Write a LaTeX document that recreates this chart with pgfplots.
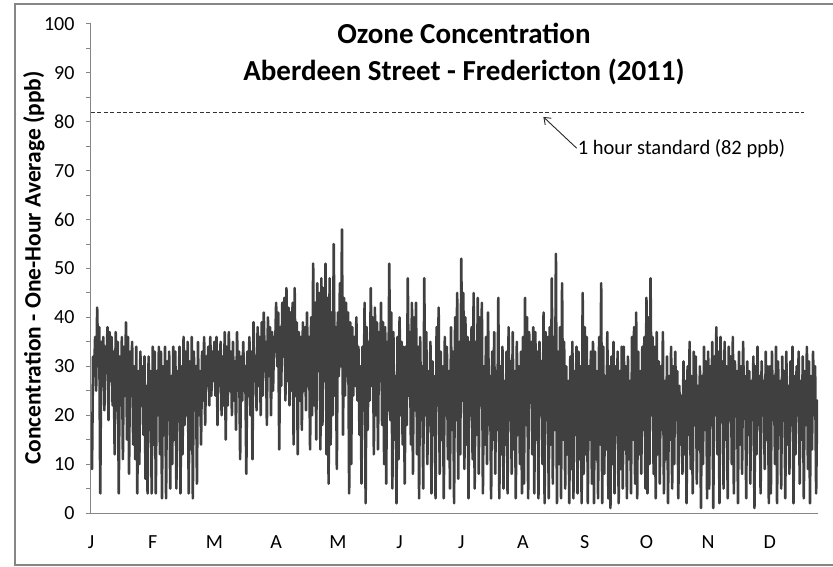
\documentclass[border=0pt]{standalone}
\usepackage{pgfplots}
\pgfplotsset{compat=1.18}
\usepackage{fontspec}
\setmainfont{Carlito}
\usetikzlibrary{arrows.meta}
\definecolor{series}{HTML}{404040}
\definecolor{axgray}{HTML}{868686}
\begin{document}
\begin{tikzpicture}
\path[use as bounding box] (-91pt,-53pt) rectangle (742pt,513pt);
\draw[axgray, line width=1.8pt] (742pt,509pt) -- (-76pt,509pt) -- (-76pt,-52pt) -- (742pt,-52pt);
\begin{axis}[
  scale only axis,
  width=727pt, height=489pt,
  xmin=0, xmax=11.78, ymin=0, ymax=100,
  axis lines*=left,
  axis line style={axgray, line width=1pt},
  xtick={0,1,2,3,4,5,6,7,8,9,10,11},
  xticklabels={J,F,M,A,M,J,J,A,S,O,N,D},
  x tick style={draw=none},
  ytick={0,10,...,100},
  minor y tick num=1,
  y tick style={axgray, line width=1pt},
  tick align=outside,
  major tick length=5pt, minor tick length=5pt,
  tick label style={font=\fontsize{20}{24}\selectfont},
  /pgf/number format/assume math mode=true,
  yticklabel style={xshift=-8pt},
  xticklabel style={yshift=-14pt},
]
\addplot[series, line width=2.6pt, line join=round, no marks] table[x expr=\coordindex/60, y index=0, header=false, row sep=\\] {
19\\ 9\\ 32\\ 28\\ 36\\ 25\\ 42\\ 30\\ 38\\ 4\\
35\\ 26\\ 36\\ 21\\ 34\\ 29\\ 38\\ 19\\ 37\\ 27\\
36\\ 22\\ 33\\ 12\\ 37\\ 21\\ 35\\ 4\\ 32\\ 22\\
36\\ 11\\ 34\\ 24\\ 39\\ 15\\ 36\\ 8\\ 33\\ 27\\
35\\ 14\\ 30\\ 11\\ 34\\ 4\\ 29\\ 10\\ 33\\ 22\\
30\\ 16\\ 32\\ 7\\ 26\\ 4\\ 32\\ 17\\ 29\\ 4\\
34\\ 14\\ 33\\ 4\\ 29\\ 20\\ 34\\ 12\\ 33\\ 3\\
30\\ 16\\ 34\\ 3\\ 31\\ 19\\ 33\\ 5\\ 28\\ 10\\
34\\ 15\\ 33\\ 5\\ 29\\ 21\\ 34\\ 4\\ 30\\ 12\\
36\\ 18\\ 33\\ 20\\ 35\\ 4\\ 31\\ 13\\ 36\\ 3\\
33\\ 21\\ 30\\ 6\\ 35\\ 20\\ 29\\ 14\\ 33\\ 23\\
36\\ 18\\ 32\\ 26\\ 34\\ 22\\ 36\\ 24\\ 33\\ 27\\
35\\ 24\\ 36\\ 18\\ 33\\ 26\\ 35\\ 20\\ 32\\ 22\\
37\\ 15\\ 34\\ 22\\ 37\\ 25\\ 33\\ 20\\ 35\\ 23\\
31\\ 17\\ 37\\ 25\\ 33\\ 11\\ 32\\ 23\\ 35\\ 25\\
30\\ 8\\ 33\\ 24\\ 36\\ 20\\ 33\\ 11\\ 39\\ 27\\
32\\ 21\\ 38\\ 26\\ 36\\ 20\\ 39\\ 24\\ 41\\ 29\\
35\\ 18\\ 40\\ 28\\ 38\\ 20\\ 37\\ 25\\ 36\\ 33\\
43\\ 30\\ 41\\ 13\\ 38\\ 26\\ 43\\ 32\\ 44\\ 23\\
46\\ 27\\ 42\\ 22\\ 41\\ 25\\ 43\\ 14\\ 46\\ 24\\
39\\ 12\\ 37\\ 23\\ 36\\ 17\\ 39\\ 25\\ 38\\ 21\\
41\\ 26\\ 36\\ 13\\ 40\\ 20\\ 51\\ 22\\ 43\\ 15\\
47\\ 29\\ 45\\ 13\\ 48\\ 18\\ 46\\ 27\\ 51\\ 12\\
44\\ 6\\ 48\\ 14\\ 41\\ 20\\ 55\\ 24\\ 38\\ 9\\
41\\ 28\\ 47\\ 30\\ 58\\ 16\\ 44\\ 24\\ 43\\ 28\\
41\\ 4\\ 39\\ 10\\ 38\\ 24\\ 36\\ 26\\ 40\\ 23\\
34\\ 16\\ 30\\ 6\\ 34\\ 21\\ 43\\ 2\\ 38\\ 17\\
35\\ 23\\ 46\\ 26\\ 40\\ 12\\ 42\\ 20\\ 39\\ 13\\
37\\ 27\\ 43\\ 18\\ 39\\ 10\\ 38\\ 6\\ 35\\ 21\\
51\\ 19\\ 41\\ 5\\ 37\\ 15\\ 28\\ 2\\ 36\\ 11\\
40\\ 20\\ 35\\ 14\\ 34\\ 6\\ 34\\ 18\\ 48\\ 24\\
37\\ 14\\ 43\\ 8\\ 40\\ 21\\ 43\\ 12\\ 34\\ 3\\
36\\ 19\\ 30\\ 5\\ 48\\ 20\\ 37\\ 10\\ 29\\ 18\\
35\\ 4\\ 31\\ 16\\ 28\\ 3\\ 38\\ 22\\ 42\\ 8\\
33\\ 15\\ 30\\ 3\\ 36\\ 20\\ 34\\ 11\\ 29\\ 5\\
38\\ 17\\ 33\\ 2\\ 40\\ 19\\ 45\\ 7\\ 35\\ 12\\
52\\ 23\\ 45\\ 9\\ 40\\ 14\\ 36\\ 3\\ 35\\ 20\\
38\\ 11\\ 45\\ 5\\ 35\\ 16\\ 44\\ 8\\ 40\\ 22\\
43\\ 4\\ 30\\ 14\\ 36\\ 10\\ 41\\ 18\\ 28\\ 3\\
33\\ 15\\ 37\\ 8\\ 29\\ 17\\ 44\\ 3\\ 30\\ 12\\
34\\ 5\\ 27\\ 14\\ 33\\ 4\\ 38\\ 19\\ 31\\ 8\\
37\\ 13\\ 29\\ 3\\ 35\\ 16\\ 30\\ 10\\ 33\\ 4\\
36\\ 6\\ 44\\ 18\\ 40\\ 3\\ 37\\ 23\\ 35\\ 12\\
38\\ 4\\ 37\\ 15\\ 33\\ 3\\ 35\\ 20\\ 31\\ 10\\
41\\ 2\\ 37\\ 19\\ 36\\ 3\\ 38\\ 14\\ 48\\ 6\\
36\\ 17\\ 53\\ 2\\ 33\\ 10\\ 38\\ 3\\ 47\\ 15\\
35\\ 5\\ 30\\ 12\\ 27\\ 2\\ 32\\ 9\\ 35\\ 3\\
29\\ 16\\ 34\\ 4\\ 33\\ 11\\ 30\\ 2\\ 45\\ 8\\
38\\ 12\\ 36\\ 2\\ 30\\ 15\\ 33\\ 6\\ 35\\ 2\\
33\\ 11\\ 29\\ 3\\ 36\\ 14\\ 47\\ 2\\ 34\\ 8\\
28\\ 13\\ 37\\ 3\\ 30\\ 1\\ 32\\ 10\\ 35\\ 4\\
30\\ 16\\ 33\\ 2\\ 29\\ 9\\ 34\\ 5\\ 34\\ 13\\
30\\ 3\\ 32\\ 11\\ 27\\ 4\\ 36\\ 15\\ 38\\ 6\\
41\\ 3\\ 33\\ 12\\ 29\\ 8\\ 34\\ 17\\ 36\\ 5\\
44\\ 4\\ 40\\ 10\\ 48\\ 20\\ 36\\ 8\\ 34\\ 3\\
37\\ 12\\ 31\\ 6\\ 30\\ 17\\ 37\\ 4\\ 27\\ 11\\
32\\ 2\\ 28\\ 15\\ 34\\ 5\\ 30\\ 10\\ 33\\ 19\\
29\\ 3\\ 26\\ 14\\ 24\\ 8\\ 31\\ 12\\ 27\\ 2\\
30\\ 16\\ 35\\ 9\\ 28\\ 4\\ 33\\ 18\\ 32\\ 6\\
26\\ 13\\ 30\\ 1\\ 28\\ 10\\ 34\\ 17\\ 31\\ 3\\
33\\ 5\\ 30\\ 18\\ 35\\ 1\\ 32\\ 20\\ 38\\ 12\\
33\\ 2\\ 36\\ 22\\ 31\\ 5\\ 35\\ 15\\ 30\\ 3\\
34\\ 19\\ 32\\ 10\\ 36\\ 4\\ 31\\ 22\\ 29\\ 2\\
33\\ 14\\ 30\\ 8\\ 35\\ 20\\ 28\\ 3\\ 31\\ 16\\
29\\ 6\\ 27\\ 19\\ 32\\ 1\\ 30\\ 12\\ 34\\ 18\\
28\\ 4\\ 31\\ 21\\ 27\\ 9\\ 33\\ 15\\ 30\\ 2\\
30\\ 4\\ 33\\ 19\\ 28\\ 10\\ 34\\ 2\\ 31\\ 16\\
27\\ 5\\ 32\\ 21\\ 29\\ 3\\ 33\\ 14\\ 26\\ 8\\
31\\ 18\\ 34\\ 2\\ 28\\ 12\\ 30\\ 20\\ 33\\ 6\\
27\\ 15\\ 32\\ 3\\ 29\\ 18\\ 34\\ 9\\ 31\\ 2\\
28\\ 13\\ 33\\ 20\\ 30\\ 4\\ 23\\ 18\\
};
\addplot[black!80, line width=1pt, dash pattern=on 4pt off 2.4pt, no marks] coordinates {(0,82) (11.56,82)};
\draw[black!85, line width=0.9pt, -{Straight Barb[length=6pt,width=9pt]}] (axis cs:7.87,74.6) -- (axis cs:7.33,81.0);
\node[anchor=west, inner sep=1pt, font=\fontsize{20.5}{24}\selectfont] at (axis cs:7.87,74.6) {1 hour standard (82 ppb)};
\end{axis}
\node[rotate=90, font=\fontsize{23.5}{28}\selectfont\bfseries] at (-57pt,245pt) {Concentration - One-Hour Average (ppb)};
\node[font=\fontsize{29}{34}\selectfont\bfseries] at (373pt,480pt) {Ozone Concentration};
\node[font=\fontsize{29}{34}\selectfont\bfseries] at (373pt,441pt) {Aberdeen Street - Fredericton (2011)};
\end{tikzpicture}
\end{document}
